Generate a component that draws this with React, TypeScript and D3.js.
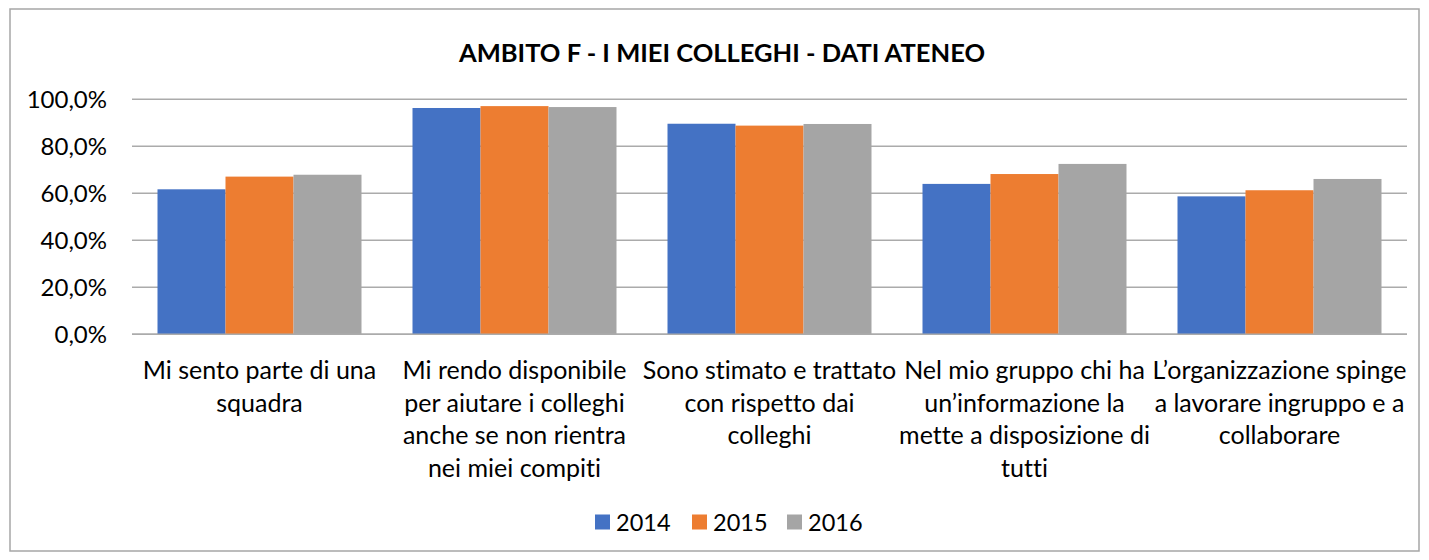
import React from "react";
import * as d3 from "d3";

const categories = [
  "Mi sento parte di una squadra",
  "Mi rendo disponibile per aiutare i colleghi anche se non rientra nei miei compiti",
  "Sono stimato e trattato con rispetto dai colleghi",
  "Nel mio gruppo chi ha un’informazione la mette a disposizione di tutti",
  "L’organizzazione spinge a lavorare ingruppo e a collaborare",
];

const categoryLines = [
  ["Mi sento parte di una", "squadra"],
  ["Mi rendo disponibile", "per aiutare i colleghi", "anche se non rientra", "nei miei compiti"],
  ["Sono stimato e trattato", "con rispetto dai", "colleghi"],
  ["Nel mio gruppo chi ha", "un’informazione la", "mette a disposizione di", "tutti"],
  ["L’organizzazione spinge", "a lavorare ingruppo e a", "collaborare"],
];

const years = ["2014", "2015", "2016"];
const values2014 = [0.617, 0.963, 0.896, 0.64, 0.587];
const values2015 = [0.671, 0.971, 0.888, 0.682, 0.613];
const values2016 = [0.679, 0.967, 0.895, 0.725, 0.661];
const seriesValues = [values2014, values2015, values2016];
const colors = ["#4472C4", "#ED7D31", "#A5A5A5"];
const yTicks = [0, 0.2, 0.4, 0.6, 0.8, 1.0];
const title = "AMBITO F - I MIEI COLLEGHI - DATI ATENEO";

const W = 1429;
const H = 560;
const FONT = "Lato, 'Open Sans', sans-serif";

export default function App() {
  const x = d3.scaleBand<string>().domain(categories).range([132, 1407]).paddingInner(0.2).paddingOuter(0.1);
  const xi = d3.scaleBand<string>().domain(years).range([0, x.bandwidth()]).padding(0);
  const y = d3.scaleLinear().domain([0, 1]).range([334.3, 99.3]);
  const fmt = (v: number) => (v * 100).toFixed(1).replace(".", ",") + "%";

  const legendItems = years.map((yr, i) => ({ yr, color: colors[i] }));
  const legendX = [595, 692, 787];

  return (
    <svg width={W} height={H} style={{ position: "absolute", left: 0, top: 0, display: "block", fontVariantLigatures: "none" }} fontFamily={FONT}>
      <rect x={0} y={0} width={W} height={H} fill="#fff" />
      <rect x={10} y={9} width={1409} height={542} fill="#fff" stroke="#a6a6a6" strokeWidth={1.5} />
      <text x={722} y={62} textAnchor="middle" fontWeight="bold" fontSize={25.5} fill="#000">{title}</text>
      {yTicks.map((t) => (
        <g key={t}>
          <line x1={132} x2={1407} y1={y(t)} y2={y(t)} stroke="#ababab" strokeWidth={1.5} />
          <text x={107} y={y(t) + 9} textAnchor="end" fontSize={24} fill="#000">{fmt(t)}</text>
        </g>
      ))}
      {categories.map((c, ci) => (
        <g key={c} transform={`translate(${x(c)},0)`}>
          {years.map((yr, si) => (
            <rect key={yr} x={xi(yr)} y={y(seriesValues[si][ci])} width={xi.bandwidth()} height={y(0) - y(seriesValues[si][ci])} fill={colors[si]} />
          ))}
        </g>
      ))}
      <line x1={132} x2={1407} y1={y(0)} y2={y(0)} stroke="#ababab" strokeWidth={1.5} />
      {categories.map((c, ci) => (
        <text key={c} textAnchor="middle" fontSize={25} fill="#000">
          {categoryLines[ci].map((ln, li) => (
            <tspan key={li} x={(x(c) as number) + x.bandwidth() / 2} y={379 + li * 32.5}>{ln}</tspan>
          ))}
        </text>
      ))}
      {legendItems.map((it, i) => (
        <g key={it.yr}>
          <rect x={legendX[i]} y={514.5} width={15} height={15} fill={it.color} />
          <text x={legendX[i] + 21} y={531} fontSize={23.5} fill="#000">{it.yr}</text>
        </g>
      ))}
    </svg>
  );
}
